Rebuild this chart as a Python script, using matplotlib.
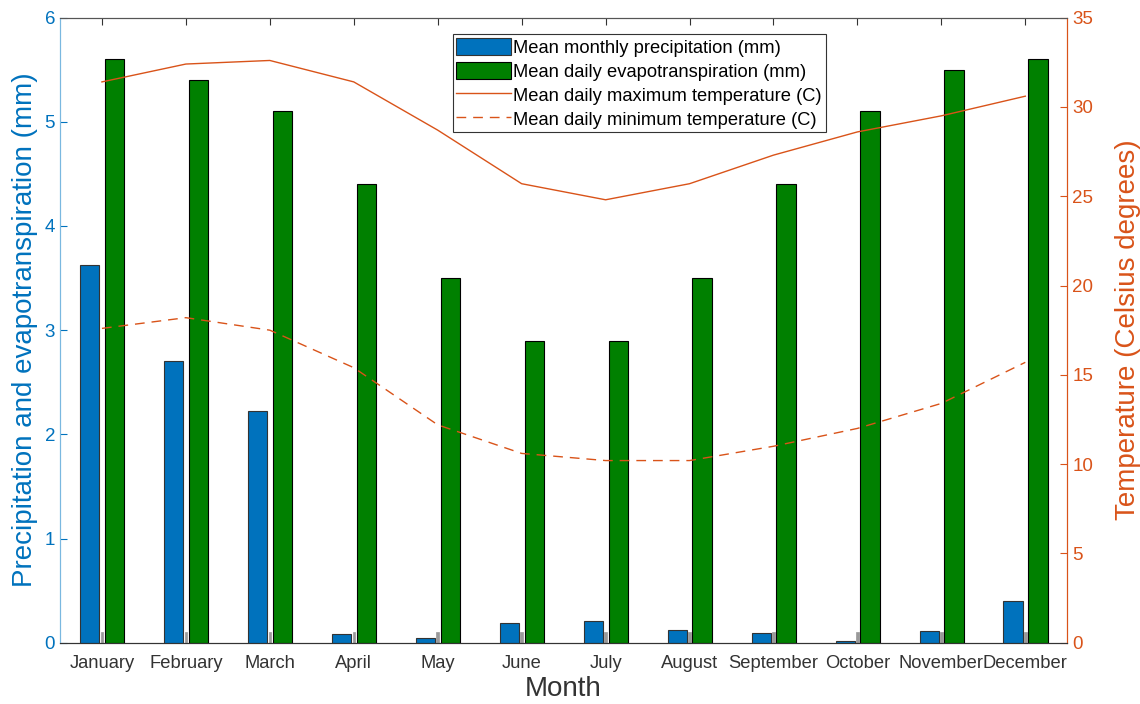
import numpy as np
import matplotlib.pyplot as plt

plt.rcParams['font.family'] = ['Liberation Sans', 'DejaVu Sans']

months = ['January', 'February', 'March', 'April', 'May', 'June', 'July',
          'August', 'September', 'October', 'November', 'December']
precip = [3.63, 2.70, 2.22, 0.08, 0.05, 0.19, 0.21, 0.12, 0.09, 0.02, 0.11, 0.40]
evapo = [5.6, 5.4, 5.1, 4.4, 3.5, 2.9, 2.9, 3.5, 4.4, 5.1, 5.5, 5.6]
stub = [0.1] * 12
tmax = [31.4, 32.4, 32.6, 31.4, 28.7, 25.7, 24.8, 25.7, 27.3, 28.6, 29.5, 30.6]
tmin = [17.6, 18.2, 17.5, 15.4, 12.2, 10.6, 10.2, 10.2, 11.0, 12.0, 13.4, 15.7]

blue = '#0072BD'
orange = '#D95319'
x = np.arange(1, 13)

fig = plt.figure(figsize=(11.4, 7.04), dpi=100)
ax = fig.add_axes([0.0526, 0.087, 0.8836, 0.888])
ax2 = ax.twinx()

b1 = ax.bar(x - 0.145, precip, width=0.23, color=blue, edgecolor='#333333', linewidth=0.8, zorder=3)
ax.bar(x, stub, width=0.03, color='#999999', edgecolor='#999999', linewidth=0.5, zorder=2)
b2 = ax.bar(x + 0.15, evapo, width=0.23, color='#008000', edgecolor='black', linewidth=0.8, zorder=3)

l1, = ax2.plot(x, tmax, color=orange, lw=1.0)
l2, = ax2.plot(x, tmin, color=orange, lw=1.0, ls=(0, (7, 5)))

ax.set_xlim(0.5, 12.5)
ax.set_ylim(0, 6)
ax2.set_ylim(0, 35)
ax.set_xticks(x)
ax.set_xticklabels(months, fontsize=13.2, color='#333333')
ax.set_yticks(range(7))
ax2.set_yticks(range(0, 36, 5))
ax.tick_params(axis='x', direction='in', top=True, length=5, color='#333333', pad=9)
ax.tick_params(axis='y', direction='in', colors=blue, labelsize=13.5, length=5)
ax2.tick_params(axis='y', direction='in', colors=orange, labelsize=13.5, length=5)
ax.set_xlabel('Month', fontsize=20, color='#333333', labelpad=3)
ax.set_ylabel('Precipitation and evapotranspiration (mm)', fontsize=20, color=blue, labelpad=5)
ax2.set_ylabel('Temperature (Celsius degrees)', fontsize=20, color=orange, labelpad=16)

for a in (ax, ax2):
    a.spines['top'].set_color('#555555')
    a.spines['bottom'].set_color('#333333')
    a.spines['left'].set_color('#7ab8e0')
    a.spines['right'].set_color(orange)

leg = ax2.legend([b1, b2, l1, l2],
                 ['Mean monthly precipitation (mm)', 'Mean daily evapotranspiration (mm)',
                  'Mean daily maximum temperature (C)', 'Mean daily minimum temperature (C)'],
                 loc='upper center', bbox_to_anchor=(0.575, 0.973), fontsize=13.2,
                 fancybox=False, framealpha=1, edgecolor='#333333',
                 handlelength=3.0, handleheight=1.0, handletextpad=0.1,
                 borderpad=0.2, labelspacing=0.3, borderaxespad=0)
leg.get_frame().set_linewidth(0.8)

fig.savefig('out.png', dpi=100)
